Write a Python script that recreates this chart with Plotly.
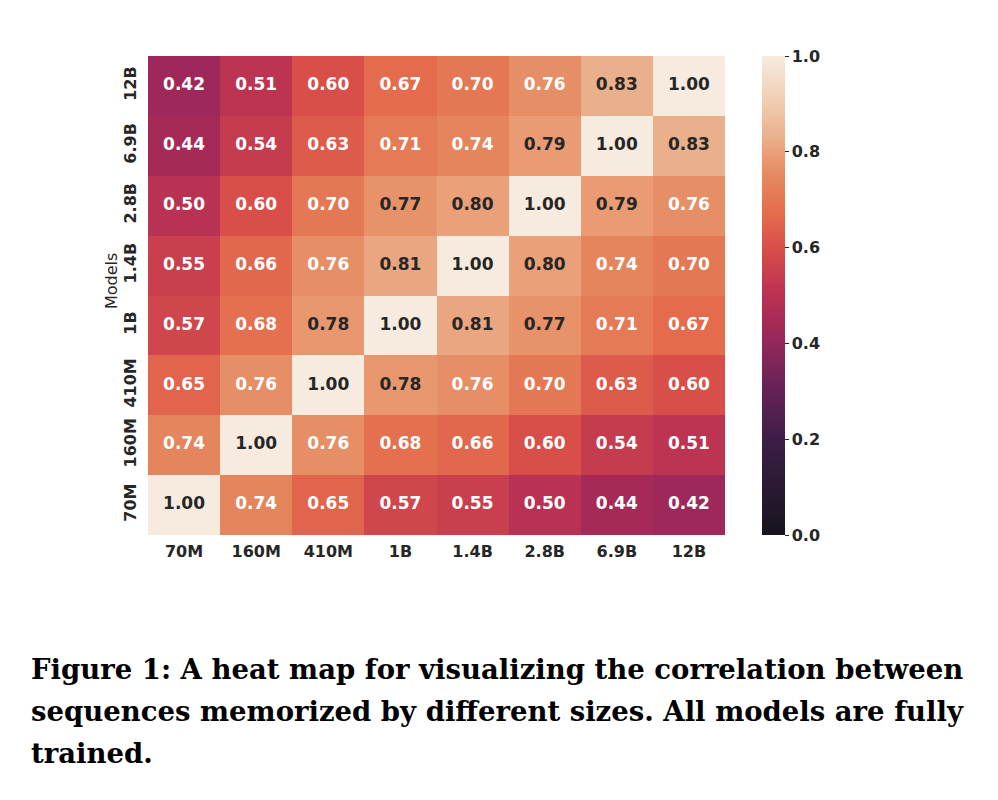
import plotly.graph_objects as go

models = ["70M", "160M", "410M", "1B", "1.4B", "2.8B", "6.9B", "12B"]
# rows listed bottom (70M) to top (12B); columns 70M .. 12B
row_70M  = [1.00, 0.74, 0.65, 0.57, 0.55, 0.50, 0.44, 0.42]
row_160M = [0.74, 1.00, 0.76, 0.68, 0.66, 0.60, 0.54, 0.51]
row_410M = [0.65, 0.76, 1.00, 0.78, 0.76, 0.70, 0.63, 0.60]
row_1B   = [0.57, 0.68, 0.78, 1.00, 0.81, 0.77, 0.71, 0.67]
row_14B  = [0.55, 0.66, 0.76, 0.81, 1.00, 0.80, 0.74, 0.70]
row_28B  = [0.50, 0.60, 0.70, 0.77, 0.80, 1.00, 0.79, 0.76]
row_69B  = [0.44, 0.54, 0.63, 0.71, 0.74, 0.79, 1.00, 0.83]
row_12B  = [0.42, 0.51, 0.60, 0.67, 0.70, 0.76, 0.83, 1.00]
z = [row_70M, row_160M, row_410M, row_1B, row_14B, row_28B, row_69B, row_12B]

cbar_ticks = [0.0, 0.2, 0.4, 0.6, 0.8, 1.0]
caption_lines = [
    "Figure 1: A heat map for visualizing the correlation between",
    "sequences memorized by different sizes. All models are fully",
    "trained.",
]

# rocket-like colour scale (as rendered in the reference)
rocket = [
    [0.0, "#17141d"], [0.1, "#2a1a33"], [0.2, "#3e1d48"], [0.3, "#642257"],
    [0.4, "#93285b"], [0.42, "#9e2859"], [0.51, "#bd3352"], [0.60, "#d84f4a"],
    [0.67, "#e46c4d"], [0.74, "#e4855d"], [0.79, "#ea9b73"], [0.83, "#eab08c"],
    [0.9, "#f0cbb0"], [1.0, "#f7ebdf"],
]

OFF = 8  # browser body margin
W, H = 998 - OFF, 800 - OFF


def px(x):
    return (x - OFF) / W


def py(y):
    return 1 - (y - OFF) / H


x0, x1 = 148, 725
y0, y1 = 56, 535

fig = go.Figure()
fig.add_trace(go.Heatmap(
    x=models, y=models, z=z, zmin=0, zmax=1, colorscale=rocket,
    colorbar=dict(
        x=px(762), xanchor="left", xpad=0, ypad=0, thickness=23, thicknessmode="pixels",
        y=py(y1), yanchor="bottom", len=(y1 - y0) / H, lenmode="fraction",
        outlinewidth=0, ticks="outside", ticklen=4, tickcolor="#262626",
        tickvals=cbar_ticks, tickformat=".1f",
        tickfont=dict(family="DejaVu Sans", size=16, color="#262626", weight="bold"),
    ),
))

xs, ys, ts, cs = [], [], [], []
for i, rname in enumerate(models):
    for j, cname in enumerate(models):
        v = z[i][j]
        xs.append(cname); ys.append(rname); ts.append(f"{v:.2f}")
        cs.append("#262626" if v >= 0.765 else "white")
fig.add_trace(go.Scatter(
    x=xs, y=ys, text=ts, mode="text", hoverinfo="skip", showlegend=False,
    textfont=dict(family="DejaVu Sans", size=17, color=cs, weight="bold"),
))

tickfont = dict(family="DejaVu Sans", size=16, color="#262626", weight="bold")
fig.update_layout(
    width=W, height=H, margin=dict(l=0, r=0, t=0, b=0),
    paper_bgcolor="white", plot_bgcolor="white", showlegend=False,
    xaxis=dict(domain=[px(x0), px(x1)], type="category", categoryorder="array",
               categoryarray=models, showgrid=False, zeroline=False, ticks="",
               tickfont=tickfont, ticklabelstandoff=5, automargin=False),
    yaxis=dict(domain=[py(y1), py(y0)], type="category", categoryorder="array",
               categoryarray=models, showgrid=False, zeroline=False, ticks="",
               tickangle=-90, tickfont=tickfont, ticklabelstandoff=8, automargin=False),
)

fig.add_annotation(text="Models", xref="paper", yref="paper", x=px(111), y=py(281),
                   xanchor="center", yanchor="middle", textangle=-90, showarrow=False,
                   font=dict(family="DejaVu Sans", size=16, color="#262626"))

for k, line in enumerate(caption_lines):
    fig.add_annotation(text=line, xref="paper", yref="paper", x=px(29), xanchor="left",
                       y=py(669 + 42 * k), yanchor="middle", showarrow=False,
                       font=dict(family="DejaVu Serif", size=27.5, color="black", weight="bold"))

fig.write_html("out.html")
